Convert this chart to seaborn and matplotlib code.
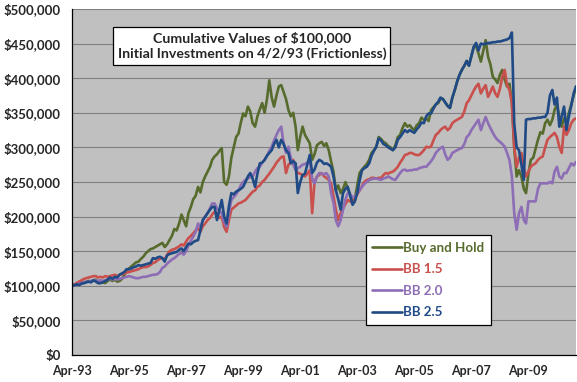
import pandas as pd
import matplotlib
matplotlib.use("Agg")
import matplotlib.pyplot as plt
from matplotlib.ticker import FuncFormatter, MultipleLocator, FixedLocator
import matplotlib.dates as mdates
import seaborn as sns

# monthly values in $ thousands, Apr-93 .. Dec-10
dates = pd.date_range("1993-04-01", "2010-12-01", freq="MS")
tick_dates = pd.to_datetime(["1993-04-01", "1995-04-01", "1997-04-01", "1999-04-01", "2001-04-01",
                             "2003-04-01", "2005-04-01", "2007-04-01", "2009-04-01"])

buy_hold = [
    100, 101, 103, 102, 105, 104, 106, 107, 106, 108, 109, 104,
    104, 105, 104, 107, 109, 107, 109, 106, 107, 110, 116, 122,
    125, 128, 131, 134, 135, 139, 142, 147, 150, 153, 154, 156,
    158, 160, 162, 156, 160, 166, 172, 182, 180, 190, 203, 195,
    186, 205, 214, 225, 230, 243, 235, 250, 258, 265, 272, 282,
    287, 290, 295, 299, 250, 246, 258, 285, 300, 315, 320, 335,
    349, 345, 359, 352, 335, 330, 345, 355, 364, 350, 370, 397,
    372, 359, 375, 388, 390, 380, 370, 354, 345, 350, 330, 296,
    315, 330, 318, 312, 306, 282, 290, 303, 306, 308, 302, 306,
    296, 280, 265, 238, 245, 234, 240, 250, 240, 232, 219, 225,
    245, 263, 268, 272, 276, 282, 292, 296, 301, 315, 312, 308,
    306, 302, 300, 296, 303, 315, 318, 328, 335, 330, 332, 328,
    325, 332, 335, 343, 340, 342, 338, 354, 358, 362, 364, 370,
    370, 365, 360, 357, 372, 383, 395, 405, 412, 418, 425, 418,
    432, 445, 446, 436, 424, 440, 455, 431, 420, 402, 398, 393,
    405, 412, 398, 388, 392, 365, 300, 258, 267, 258, 240, 234,
    262, 282, 285, 298, 311, 322, 320, 335, 340, 332, 340, 354,
    362, 345, 330, 342, 335, 350, 362, 375, 388,
]

bb15 = [
    100, 102, 104, 106, 108, 110, 111, 112, 113, 114, 114, 112,
    113, 112, 114, 113, 114, 115, 116, 114, 116, 117, 118, 119,
    120, 121, 122, 123, 124, 126, 127, 127, 128, 130, 133, 134,
    137, 139, 140, 138, 145, 150, 152, 153, 155, 157, 160, 158,
    164, 169, 172, 176, 180, 183, 178, 186, 190, 195, 198, 203,
    207, 205, 198, 200, 185, 178, 195, 210, 213, 216, 219, 220,
    222, 224, 228, 232, 236, 238, 243, 245, 250, 253, 258, 262,
    267, 272, 278, 282, 286, 287, 263, 275, 278, 282, 270, 263,
    262, 260, 258, 262, 267, 205, 250, 258, 260, 263, 258, 256,
    253, 248, 230, 210, 195, 205, 212, 218, 224, 222, 219, 226,
    232, 238, 244, 250, 253, 254, 256, 256, 255, 256, 256, 260,
    263, 262, 264, 265, 268, 272, 278, 283, 289, 290, 292, 292,
    290, 289, 289, 292, 296, 301, 300, 301, 310, 318, 321, 325,
    328, 330, 325, 328, 335, 338, 340, 342, 344, 352, 364, 368,
    375, 382, 388, 392, 378, 385, 390, 373, 380, 388, 378, 373,
    385, 402, 412, 390, 383, 364, 301, 272, 285, 292, 270, 258,
    265, 272, 275, 277, 282, 285, 287, 300, 311, 315, 318, 321,
    315, 301, 292, 330, 318, 325, 335, 340, 342,
]

bb20 = [
    100, 101, 102, 103, 104, 105, 106, 106, 107, 108, 108, 107,
    108, 107, 108, 109, 110, 109, 110, 109, 110, 111, 112, 113,
    114, 113, 112, 111, 111, 112, 113, 113, 114, 115, 116, 116,
    117, 120, 126, 128, 132, 135, 138, 140, 143, 146, 148, 145,
    150, 158, 165, 171, 178, 190, 185, 195, 200, 205, 212, 219,
    219, 212, 208, 205, 192, 185, 205, 224, 228, 232, 238, 245,
    250, 253, 255, 257, 258, 265, 270, 272, 278, 282, 288, 295,
    301, 310, 318, 325, 330, 305, 292, 301, 285, 275, 267, 270,
    272, 275, 276, 278, 282, 255, 248, 258, 263, 262, 261, 263,
    258, 234, 220, 195, 186, 195, 210, 225, 234, 232, 228, 229,
    234, 238, 243, 247, 250, 253, 254, 255, 255, 254, 253, 255,
    256, 258, 256, 254, 253, 258, 263, 267, 268, 266, 267, 267,
    268, 268, 270, 271, 272, 272, 276, 280, 285, 292, 296, 299,
    301, 290, 282, 285, 292, 294, 296, 298, 299, 305, 315, 318,
    325, 330, 335, 340, 325, 335, 344, 335, 328, 321, 315, 311,
    308, 305, 301, 292, 282, 258, 205, 181, 205, 214, 195, 190,
    222, 222, 222, 222, 240, 248, 248, 248, 248, 250, 248, 265,
    272, 258, 255, 263, 263, 270, 277, 274, 279,
]

bb25 = [
    100, 101, 102, 101, 103, 104, 105, 106, 105, 108, 106, 104,
    104, 105, 107, 109, 112, 110, 113, 112, 116, 118, 120, 124,
    124, 125, 127, 128, 130, 129, 130, 131, 132, 133, 140, 139,
    141, 142, 140, 135, 144, 146, 147, 148, 149, 152, 154, 150,
    156, 161, 160, 163, 165, 166, 180, 195, 200, 205, 210, 214,
    214, 195, 210, 224, 200, 190, 215, 234, 232, 236, 238, 240,
    243, 250, 258, 263, 255, 243, 262, 277, 278, 282, 288, 292,
    296, 305, 311, 300, 311, 305, 296, 292, 277, 280, 277, 234,
    250, 260, 262, 275, 289, 263, 268, 278, 282, 280, 276, 277,
    275, 272, 258, 238, 225, 210, 234, 240, 243, 230, 217, 222,
    234, 252, 267, 270, 272, 277, 288, 295, 301, 313, 310, 305,
    303, 300, 298, 296, 300, 311, 315, 320, 325, 322, 325, 323,
    321, 326, 330, 336, 335, 345, 349, 349, 356, 362, 366, 372,
    370, 365, 360, 357, 372, 383, 395, 405, 412, 418, 425, 418,
    432, 445, 451, 440, 450, 449, 450, 451, 451, 452, 452, 453,
    453, 454, 455, 456, 458, 466, 335, 300, 296, 275, 253, 340,
    341, 341, 342, 342, 343, 343, 344, 344, 350, 375, 383, 362,
    372, 330, 345, 359, 325, 345, 360, 378, 388,
]

series_names = ["Buy and Hold", "BB 1.5", "BB 2.0", "BB 2.5"]
colors = ["#566b2c", "#c9504c", "#8d6db5", "#1f4a86"]

frames = []
for name, vals in zip(series_names, [buy_hold, bb15, bb20, bb25]):
    frames.append(pd.DataFrame({"date": dates, "value": [v * 1000 for v in vals], "series": name}))
df = pd.concat(frames, ignore_index=True)

sns.set_style("white")
plt.rcParams["font.family"] = ["Lato", "DejaVu Sans"]
plt.rcParams["font.weight"] = "bold"

fig = plt.figure(figsize=(5.77, 3.82), dpi=100)
ax = fig.add_axes([72 / 577, 27 / 382, 504 / 577, 346 / 382])
ax.set_facecolor("#c0c0c0")

sns.lineplot(data=df, x="date", y="value", hue="series", hue_order=series_names,
             palette=dict(zip(series_names, colors)), linewidth=1.9,
             estimator=None, sort=False, ax=ax)

ax.set_ylim(0, 500000)
ax.set_xlim(pd.Timestamp("1993-04-01"), pd.Timestamp("2010-12-01"))
ax.yaxis.set_major_locator(MultipleLocator(50000))
ax.yaxis.set_major_formatter(FuncFormatter(lambda v, p: "\\$" + f"{v:,.0f}"))
ax.xaxis.set_major_locator(FixedLocator(mdates.date2num(tick_dates)))
ax.xaxis.set_major_formatter(mdates.DateFormatter("%b-%y"))
ax.set_xlabel("")
ax.set_ylabel("")

ax.yaxis.grid(True, color="#808080", linewidth=0.8)
ax.xaxis.grid(False)
ax.set_axisbelow(True)
for s in ["top", "right"]:
    ax.spines[s].set_visible(False)
for s in ["left", "bottom"]:
    ax.spines[s].set_color("black")
    ax.spines[s].set_linewidth(0.9)
ax.tick_params(axis="y", direction="out", length=6, width=0.8, color="#808080",
               labelsize=9.5, pad=2)
ax.tick_params(axis="x", direction="out", length=4, width=0.8, color="black",
               labelsize=9, pad=3)
for lab in ax.get_xticklabels() + ax.get_yticklabels():
    lab.set_fontweight("bold")

ax.text(0.357, 0.894, "Cumulative Values of \\$100,000\nInitial Investments on 4/2/93 (Frictionless)",
        transform=ax.transAxes, ha="center", va="center", fontsize=10.2,
        fontweight="bold", linespacing=1.35,
        bbox=dict(boxstyle="square,pad=0.3", facecolor="white", edgecolor="black", linewidth=0.9))

handles, labels = ax.get_legend_handles_labels()
leg = ax.legend(handles, labels, loc="upper left", bbox_to_anchor=(0.583, 0.347),
                frameon=True, fancybox=False, framealpha=1, edgecolor="black",
                prop={"weight": "bold", "size": 9.6}, labelcolor="linecolor",
                handlelength=2.2, handletextpad=0.1, labelspacing=0.72,
                borderpad=0.5, borderaxespad=0)
leg.get_frame().set_linewidth(0.9)

fig.savefig("out.png", dpi=100)
